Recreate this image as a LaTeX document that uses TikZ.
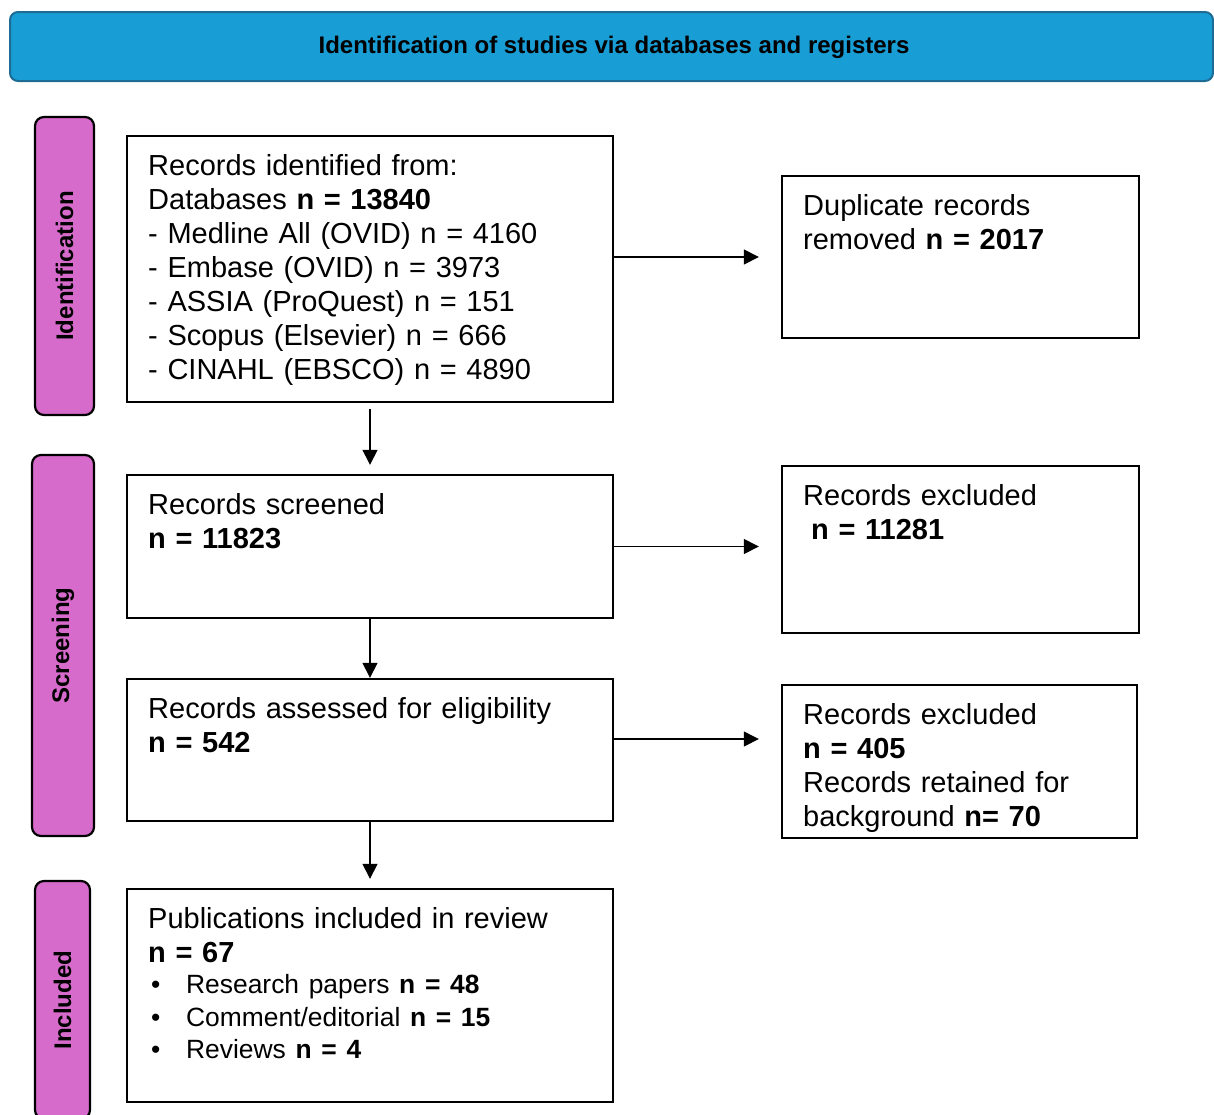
\documentclass[tikz,border=0pt]{standalone}
\usepackage{fontspec}
\setmainfont{Liberation Sans}
\usetikzlibrary{arrows.meta,fit}
\definecolor{bannerblue}{RGB}{24,157,213}
\definecolor{bannerline}{RGB}{30,108,148}
\definecolor{stagepink}{RGB}{215,107,203}

\begin{document}
\begin{tikzpicture}[x=0.5pt,y=-0.5pt,
  box/.style={draw, line width=1.2pt, inner sep=0pt},
  txt/.style={anchor=north west, inner sep=0pt, align=left, text width=#1,
    font=\fontsize{14.5}{17}\selectfont},
  txt/.default=220pt,
  stage/.style={draw, line width=1.1pt, fill=stagepink, rounded corners=4.5pt, inner sep=0pt},
  stagetxt/.style={rotate=90, inner sep=0pt, font=\bfseries\fontsize{12}{14}\selectfont},
  arr/.style={-{Triangle[length=7.5pt,width=7.5pt]}, line width=0.7pt}]
\useasboundingbox (0,0) rectangle (1214,1114);
% banner
\node[draw=bannerline, line width=1pt, fill=bannerblue, rounded corners=4pt, inner sep=0pt,
  fit={(10,12) (1213,81)}] (banner) {};
\node[font=\bfseries\fontsize{12}{14}\selectfont] (title) at (614,47)
  {Identification of studies via databases and registers};
% stages
\node[stage, fit={(35,117) (94,415)}] (idstage) {};
\node[stagetxt] (idlabel) at (idstage) {Identification};
\node[stage, fit={(32,455) (94,836)}] (scrstage) {};
\node[stagetxt] (scrlabel) at (scrstage) {Screening};
\node[stage, fit={(35,881) (90,1119)}] (incstage) {};
\node[stagetxt] (inclabel) at (incstage) {Included};
% boxes
\node[box, fit={(127,136) (613,402)}] (idbox) {};
\node[txt] (idtxt) at ([shift={(11pt,-9.5pt)}]idbox.north west)
  {Records identified from:\\
   Databases \textbf{n = 13840}\\
   - Medline All (OVID) n = 4160\\
   - Embase (OVID) n = 3973\\
   - ASSIA (ProQuest) n = 151\\
   - Scopus (Elsevier) n = 666\\
   - CINAHL (EBSCO) n = 4890};
\node[box, fit={(782,176) (1139,338)}] (dupbox) {};
\node[txt=160pt] (duptxt) at ([shift={(11pt,-9.5pt)}]dupbox.north west)
  {Duplicate records\\ removed \textbf{n = 2017}};
\node[box, fit={(127,475) (613,618)}] (scrbox) {};
\node[txt] (scrtxt) at ([shift={(11pt,-9.5pt)}]scrbox.north west)
  {Records screened\\ \textbf{n = 11823}};
\node[box, fit={(782,466) (1139,633)}] (exclA) {};
\node[txt=160pt] (exclAtxt) at ([shift={(11pt,-9.5pt)}]exclA.north west)
  {Records excluded\\ \hspace*{4pt}\textbf{n = 11281}};
\node[box, fit={(127,679) (613,821)}] (elbox) {};
\node[txt] (eltxt) at ([shift={(11pt,-9.5pt)}]elbox.north west)
  {Records assessed for eligibility\\ \textbf{n = 542}};
\node[box, fit={(782,685) (1137,838)}] (exclB) {};
\node[txt=160pt] (exclBtxt) at ([shift={(11pt,-9.5pt)}]exclB.north west)
  {Records excluded\\ \textbf{n = 405}\\ Records retained for\\ background \textbf{n= 70}};
\node[box, fit={(127,889) (613,1102)}] (incbox) {};
\node[txt] (inctxt) at ([shift={(11pt,-9.5pt)}]incbox.north west)
  {Publications included in review\\ \textbf{n = 67}\\[-0.5pt]
   {\fontsize{13.2}{16.25}\selectfont
   \makebox[19pt][l]{\hspace{1.5pt}\textbullet}Research papers \textbf{n = 48}\\
   \makebox[19pt][l]{\hspace{1.5pt}\textbullet}Comment/editorial \textbf{n = 15}\\
   \makebox[19pt][l]{\hspace{1.5pt}\textbullet}Reviews \textbf{n = 4}\par}};
% arrows
\draw[arr, shorten >=11pt] (idbox.east |- dupbox.west) -- (dupbox.west);
\draw[arr, shorten <=3pt, shorten >=4.5pt] (idbox.south) -- (scrbox.north);
\draw[arr, shorten >=11pt] (scrbox.east) -- (scrbox.east -| exclA.west);
\draw[arr] (scrbox.south) -- (elbox.north);
\draw[arr, shorten >=11pt] ([yshift=5.5pt]elbox.east) -- ([yshift=5.5pt]elbox.east -| exclB.west);
\draw[arr, shorten >=4.5pt] (elbox.south) -- (incbox.north);
\end{tikzpicture}
\end{document}
